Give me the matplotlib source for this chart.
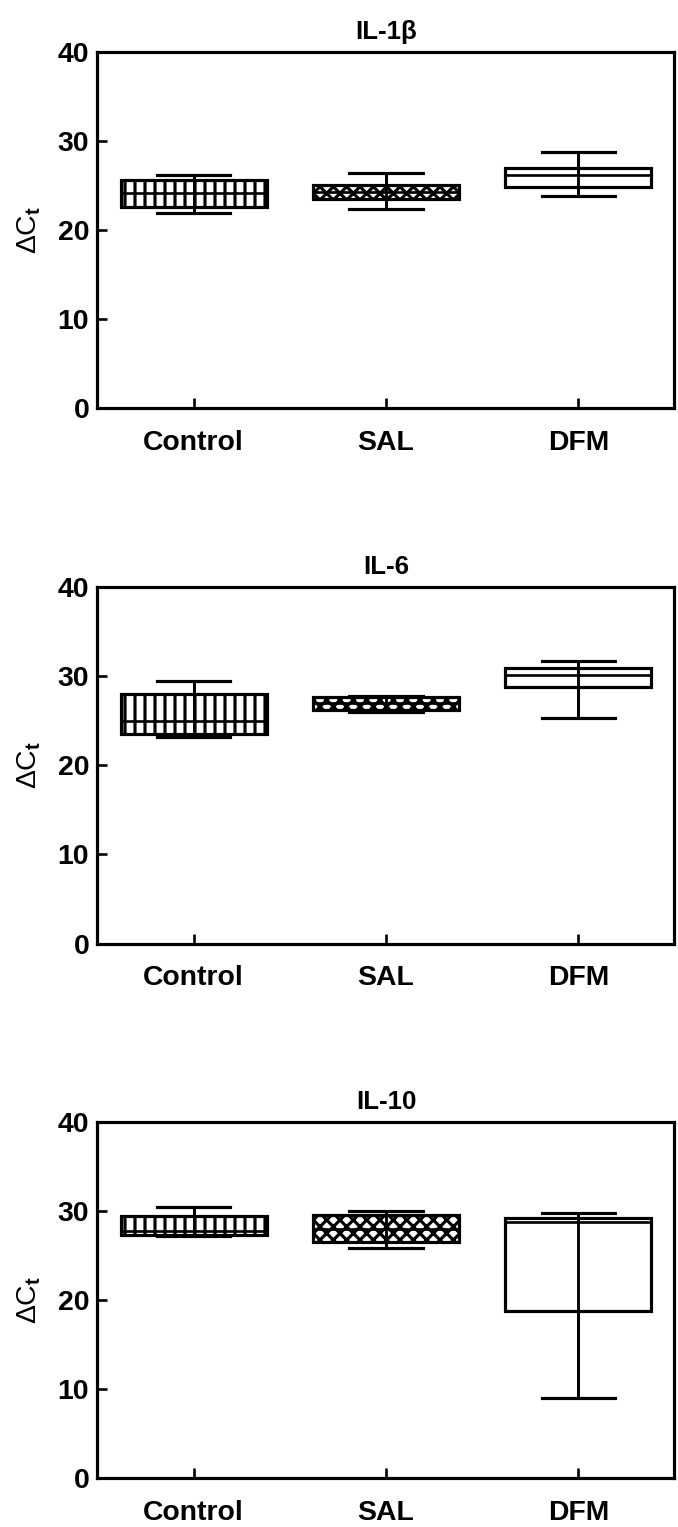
import matplotlib
matplotlib.use('Agg')
import matplotlib.pyplot as plt

plt.rcParams['font.family'] = ['Liberation Sans', 'DejaVu Sans']
plt.rcParams['font.weight'] = 'bold'
plt.rcParams['hatch.linewidth'] = 1.9
plt.rcParams['hatch.color'] = 'black'
plt.rcParams['mathtext.fontset'] = 'custom'
plt.rcParams['mathtext.rm'] = 'Liberation Sans:bold'
plt.rcParams['mathtext.it'] = 'Liberation Sans:bold'
plt.rcParams['mathtext.bf'] = 'Liberation Sans:bold'
plt.rcParams['mathtext.default'] = 'rm'

# groups and genes
groups = ['Control', 'SAL', 'DFM']
titles = ['IL-1β', 'IL-6', 'IL-10']
hatches = ['||', 'xxx', '']

# box stats per gene (rows) and group (columns)
whis_lo = [[21.95, 22.4, 23.8], [23.2, 26.0, 25.3], [27.2, 25.8, 9.0]]
q1 = [[22.6, 23.5, 24.8], [23.55, 26.2, 28.75], [27.35, 26.5, 18.75]]
med = [[24.2, 24.3, 26.15], [25.0, 27.0, 30.1], [27.75, 28.0, 28.75]]
q3 = [[25.65, 25.1, 27.0], [28.0, 27.7, 30.9], [29.4, 29.5, 29.25]]
whis_hi = [[26.2, 26.4, 28.8], [29.5, 27.75, 31.75], [30.4, 30.05, 29.8]]

fig = plt.figure(figsize=(678 / 120, 1527 / 120), dpi=120)
bottoms = [0.7325, 0.3821, 0.0318]
pos = [1, 2, 3]

for i, title in enumerate(titles):
    ax = fig.add_axes([0.1438, bottoms[i], 0.851, 0.2335])
    stats = []
    for j in range(len(groups)):
        stats.append(dict(med=med[i][j], q1=q1[i][j], q3=q3[i][j],
                          whislo=whis_lo[i][j], whishi=whis_hi[i][j], fliers=[]))
    bp = ax.bxp(stats, positions=pos, widths=0.76, capwidths=0.38,
                patch_artist=True, showfliers=False,
                boxprops=dict(facecolor='white', edgecolor='black', linewidth=1.9),
                medianprops=dict(color='black', linewidth=1.6),
                whiskerprops=dict(color='black', linewidth=1.7),
                capprops=dict(color='black', linewidth=1.9))
    for box, h in zip(bp['boxes'], hatches):
        box.set_hatch(h)
    # whisker line runs through the box
    ax.vlines(pos, whis_lo[i], whis_hi[i], color='black', linewidth=1.7, zorder=3)

    ax.set_xlim(0.5, 3.5)
    ax.set_ylim(0, 40)
    ax.set_yticks([0, 10, 20, 30, 40])
    ax.set_xticks(pos)
    ax.set_xticklabels(groups)
    ax.tick_params(direction='in', length=6, width=1.6, labelsize=17)
    ax.tick_params(axis='x', pad=13)
    ax.tick_params(axis='y', pad=5)
    for sp in ax.spines.values():
        sp.set_linewidth(1.9)
    ax.set_ylabel('ΔC$_t$', fontsize=17, labelpad=9)
    ax.set_title(title, fontsize=15.5, fontweight='bold', pad=8)

fig.savefig('out.png', dpi=120)
